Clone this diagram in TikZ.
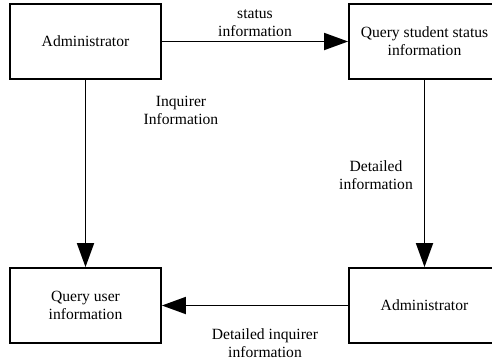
\documentclass[tikz,border=0pt]{standalone}
\usepackage{fontspec}
\setmainfont{Liberation Serif}
\usepackage{tikz}
\usetikzlibrary{positioning, arrows.meta, calc}

\tikzset{
    procbox/.style={draw, line width=1.8pt, minimum width=151pt, minimum height=75pt,
        align=center, inner sep=2pt},
    flow/.style={line width=1.8pt, -{Triangle[length=24pt, width=17pt]}},
    flowtext/.style={align=center, inner sep=0pt}
}

\begin{document}
\begin{tikzpicture}[x=1pt, y=-1pt, font=\fontsize{15.6}{18}\selectfont]
        \useasboundingbox (0,0) rectangle (492,362);

        % Boxes
        \node[procbox] (admin) at (85.5,41.5) {Administrator};
        \node[procbox] (student) at (424.5,41.5) {Query student status\\information};
        \node[procbox] (user) at (85.5,305.5) {Query user\\information};
        \node[procbox] (admin2) at (424.5,305.5) {Administrator};

        % Flows
        \draw[flow] (admin) -- (student);
        \draw[flow] (admin) -- (user);
        \draw[flow] (student) -- (admin2);
        \draw[flow] (admin2) -- (user);

        % Flow labels
        \node[flowtext] (lblStatus) at (255,23) {status\\information};
        \node[flowtext] (lblInquirer) at (181,110) {Inquirer\\Information};
        \node[flowtext] (lblDetail) at (376,175) {Detailed\\information};
        \node[flowtext] (lblInqDetail) at (265,343) {Detailed inquirer\\information};

    \end{tikzpicture}
\end{document}
